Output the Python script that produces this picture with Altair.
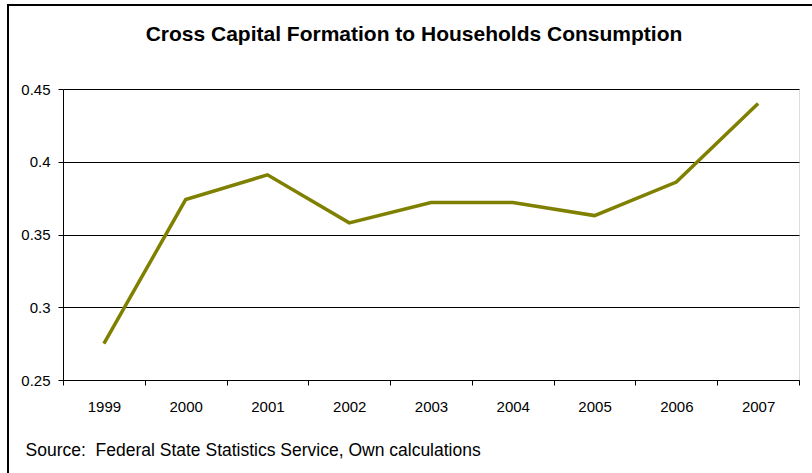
import altair as alt
import pandas as pd

years = ["1999", "2000", "2001", "2002", "2003", "2004", "2005", "2006", "2007"]
ratio = [0.275, 0.374, 0.391, 0.358, 0.372, 0.372, 0.363, 0.386, 0.440]
y_ticks = [0.25, 0.3, 0.35, 0.4, 0.45]
title_text = ["Cross Capital Formation to Households Consumption"]
source_text = "Source:\u00a0\u00a0Federal State Statistics Service, Own calculations"

df = pd.DataFrame({"year": years, "ratio": ratio})

FONT = "Liberation Sans"

line = alt.Chart(df).mark_line(color="#808000", strokeWidth=3.5).encode(
    x=alt.X(
        "year:N",
        sort=years,
        scale=alt.Scale(paddingInner=0, paddingOuter=0),
        axis=alt.Axis(
            title=source_text,
            titleFont=FONT,
            titleFontSize=17.5,
            titleFontWeight="normal",
            titleColor="#000000",
            titleAlign="left",
            titleBaseline="alphabetic",
            titleAnchor="start",
            titleX=-38,
            titleY=75,
            labelAngle=0,
            labelFont=FONT,
            labelFontSize=15,
            labelColor="#000000",
            labelPadding=14,
            tickBand="extent",
            tickSize=5,
            tickColor="#000000",
            domainColor="#000000",
            grid=False,
        ),
    ),
    y=alt.Y(
        "ratio:Q",
        scale=alt.Scale(domain=[0.25, 0.45], nice=False, zero=False),
        axis=alt.Axis(
            title=None,
            values=y_ticks,
            labelExpr="format(datum.value, '.2~f')",
            labelFont=FONT,
            labelFontSize=15,
            labelColor="#000000",
            labelPadding=8,
            tickSize=5,
            tickColor="#000000",
            domainColor="#000000",
            gridColor="#000000",
            gridWidth=1,
        ),
    ),
)

border = alt.Chart(pd.DataFrame({"a": [0]})).mark_rect(
    fill=None, stroke="#000000", strokeWidth=2, clip=False
).encode(
    x=alt.value(-55), x2=alt.value(800), y=alt.value(-84), y2=alt.value(420)
)

title = alt.Chart(pd.DataFrame({"t": title_text})).mark_text(
    font=FONT, fontSize=21, fontWeight="bold", color="#000000",
    align="center", baseline="alphabetic", clip=False,
).encode(
    text="t:N", x=alt.value(351), y=alt.value(-48)
)

chart = alt.layer(border, line, title).properties(
    width=736,
    height=291,
    padding={"left": 63, "top": 89, "right": 13, "bottom": 93},
    autosize=alt.AutoSizeParams(type="none"),
).configure_view(stroke="#333333", strokeWidth=1).configure(background="white")

chart.save("out.html", embed_options={"renderer": "svg", "actions": False})
